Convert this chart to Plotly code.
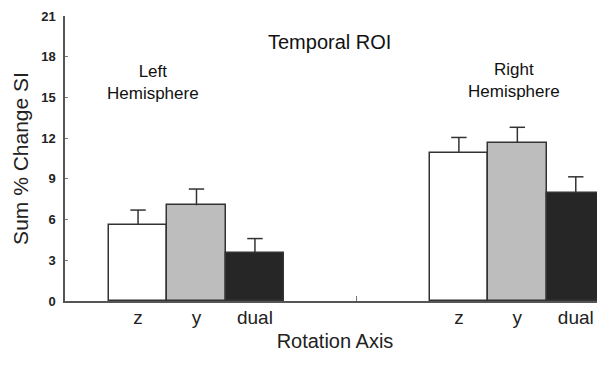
import plotly.graph_objects as go

conditions = ["z", "y", "dual"]
x_left = [0, 1, 2]
x_right = [5.49, 6.49, 7.49]
left_values = [5.6, 7.05, 3.55]
left_err = [1.1, 1.2, 1.05]
right_values = [10.9, 11.65, 7.95]
right_err = [1.15, 1.15, 1.2]
bar_colors = ["#ffffff", "#bdbdbd", "#262626"]
y_ticks = [0, 3, 6, 9, 12, 15, 18, 21]

fig = go.Figure()
xs, vals, errs = [], [], []
for i, c in enumerate(conditions):
    fig.add_trace(go.Bar(
        x=[x_left[i], x_right[i]],
        y=[left_values[i], right_values[i]],
        width=1.0,
        marker=dict(color=bar_colors[i], line=dict(color="#333333", width=1.5)),
        name=c, showlegend=False,
    ))
    xs += [x_left[i], x_right[i]]
    vals += [left_values[i], right_values[i]]
    errs += [left_err[i], right_err[i]]

# upward-only error bars: a stem from the bar top plus a cap
stem_x, stem_y = [], []
for x, v, e in zip(xs, vals, errs):
    stem_x += [x, x, None]
    stem_y += [v, v + e, None]
fig.add_trace(go.Scatter(x=stem_x, y=stem_y, mode="lines",
                         line=dict(color="#333333", width=1.5),
                         showlegend=False, hoverinfo="skip"))
fig.add_trace(go.Scatter(x=xs, y=[v + e for v, e in zip(vals, errs)], mode="markers",
                         marker=dict(symbol="line-ew", size=11,
                                     line=dict(color="#333333", width=1.5)),
                         showlegend=False, hoverinfo="skip"))

mid = (x_left[2] + x_right[0]) / 2
fig.add_trace(go.Scatter(x=[mid], y=[None], xaxis="x2",
                         showlegend=False, hoverinfo="skip"))

font = "Liberation Sans, Arial, Helvetica, sans-serif"
# page body has an 8px default margin; size the figure so the plot lands as in the reference
fig.update_layout(
    width=597, height=365,
    margin=dict(l=57, r=0, t=8, b=72),
    plot_bgcolor="white", paper_bgcolor="white",
    font=dict(family=font, color="#222222"),
    bargap=0,
    xaxis=dict(
        range=[-1.25, 7.99], automargin=False,
        tickvals=x_left + x_right,
        ticktext=conditions + conditions,
        ticks="", showgrid=False, zeroline=False,
        showline=True, linecolor="#555555", linewidth=1.5,
        tickfont=dict(size=19, color="#222222"),
        ticklabelstandoff=-2,
        title=dict(text="Rotation Axis", font=dict(size=20, color="#222222"), standoff=7),
    ),
    xaxis2=dict(
        overlaying="x", range=[-1.25, 7.99], automargin=False,
        tickvals=[mid], ticktext=[""],
        ticks="inside", ticklen=5, tickcolor="#777777", tickwidth=1,
        showgrid=False, zeroline=False, showline=False, side="bottom",
    ),
    yaxis=dict(
        range=[0, 21], tickvals=y_ticks, automargin=False,
        ticks="inside", ticklen=3, tickcolor="#777777", tickwidth=1,
        showgrid=False, zeroline=False,
        showline=True, linecolor="#555555", linewidth=1.5,
        tickfont=dict(size=13, color="#222222", weight="bold"),
        ticklabelstandoff=5,
        title=dict(text="Sum % Change SI", font=dict(size=21, color="#222222"), standoff=7),
    ),
    annotations=[
        dict(text="Temporal ROI", x=0.489, y=0.909, xref="paper", yref="paper",
             xanchor="center", yanchor="middle", showarrow=False,
             font=dict(size=20, color="#111111")),
        dict(text="Left<br>Hemisphere", x=0.163, y=0.765, xref="paper", yref="paper",
             xanchor="center", yanchor="middle", showarrow=False,
             font=dict(size=17, color="#111111")),
        dict(text="Right<br>Hemisphere", x=0.8306, y=0.772, xref="paper", yref="paper",
             xanchor="center", yanchor="middle", showarrow=False,
             font=dict(size=17, color="#111111")),
    ],
)

fig.write_html("out.html")
